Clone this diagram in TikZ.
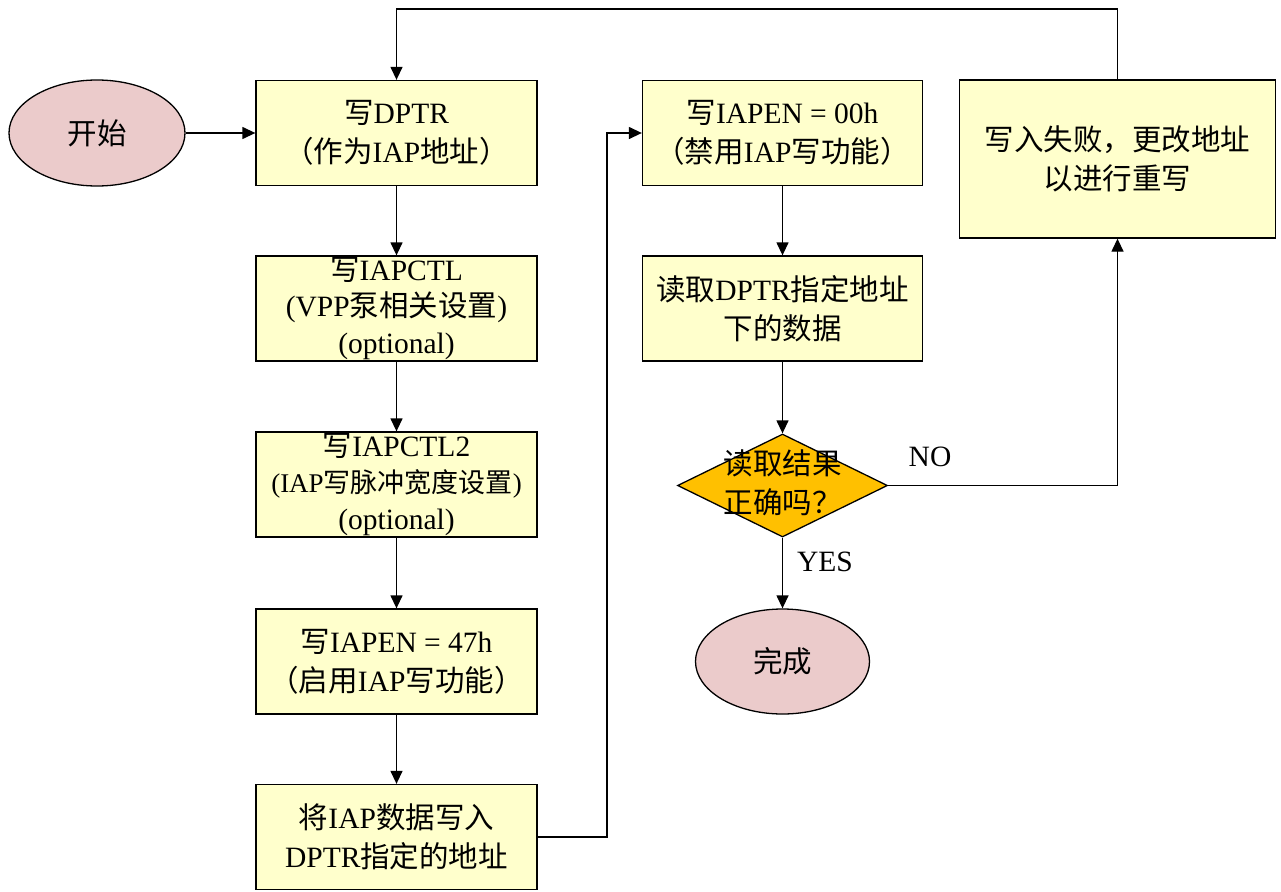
\documentclass[tikz,border=0pt]{standalone}
\usepackage{fontspec}
\setmainfont{Liberation Serif}
\newfontfamily\cjk{Noto Sans CJK SC}
\usetikzlibrary{shapes.geometric,arrows.meta}
\definecolor{boxfill}{HTML}{FFFFCC}
\definecolor{ellfill}{HTML}{EBCBCB}
\definecolor{diafill}{HTML}{FFC000}
\tikzset{
  procbox/.style={draw=black, line width=1.3pt, fill=boxfill, minimum width=281pt, minimum height=105pt, inner sep=0pt, align=center, font=\fontsize{29.5}{39}\selectfont},
  termell/.style={draw=black, line width=1.3pt, fill=ellfill, ellipse, inner sep=0pt, font=\fontsize{29.5}{39}\selectfont},
  decdia/.style={draw=black, line width=1.3pt, fill=diafill, diamond, inner sep=0pt, minimum width=210pt, minimum height=103pt},
  lbl/.style={align=center, inner sep=0pt, font=\fontsize{29.5}{39}\selectfont},
  conn/.style={draw=black, line width=1.3pt, -{Triangle[length=13pt,width=12pt]}},
  plainconn/.style={draw=black, line width=1.3pt}
}
\begin{document}
\begin{tikzpicture}[x=1pt,y=-1pt]
\useasboundingbox (0,0) rectangle (1281,891);
\node[termell, minimum width=176pt, minimum height=106pt] (start) at (97,133) {{\cjk 开始}};
\node[procbox] (b1) at (396.5,133) {{\cjk 写}DPTR\\{\cjk （作为}IAP{\cjk 地址）}};
\node[procbox, font=\fontsize{29.5}{36.5}\selectfont] (b2) at (396.5,308.5) {{\cjk 写}IAPCTL\\(VPP{\cjk 泵相关设置})\\(optional)};
\node[procbox, font=\fontsize{29.5}{36.5}\selectfont] (b3) at (396.5,484.5) {{\cjk 写}IAPCTL2\\{\fontsize{27}{36.5}\selectfont(IAP{\cjk 写脉冲宽度设置})}\\(optional)};
\node[procbox] (b4) at (396.5,661.5) {{\cjk 写}IAPEN = 47h\\{\cjk （启用}IAP{\cjk 写功能）}};
\node[procbox] (b5) at (396.5,837) {{\cjk 将}IAP{\cjk 数据写入}\\DPTR{\cjk 指定的地址}};
\node[procbox, minimum width=280pt] (b6) at (782.5,133) {{\cjk 写}IAPEN = 00h\\{\cjk （禁用}IAP{\cjk 写功能）}};
\node[procbox, minimum width=280pt] (b7) at (782.5,308.5) {{\cjk 读取}DPTR{\cjk 指定地址}\\{\cjk 下的数据}};
\node[decdia] (dec) at (782.5,485.5) {};
\node[lbl] (dectext) at (782.5,483) {{\cjk 读取结果}\\{\cjk 正确吗？}};
\node[termell, minimum width=174pt, minimum height=105pt] (done) at (782.5,661.5) {{\cjk 完成}};
\node[procbox, minimum width=316pt, minimum height=158pt] (b8) at (1117.5,159) {{\cjk 写入失败，更改地址}\\{\cjk 以进行重写}};
\node[lbl] (no) at (930,457) {NO};
\node[lbl] (yes) at (825,562) {YES};
\coordinate (c1) at (607,837);
\coordinate (c2) at (1117.5,9);
\draw[conn] (start.east) -- (b1.west);
\draw[conn] (b1.south) -- (b2.north);
\draw[conn] (b2.south) -- (b3.north);
\draw[conn] (b3.south) -- (b4.north);
\draw[conn] (b4.south) -- (b5.north);
\draw[conn] (b5.east) -- (c1) |- (b6.west);
\draw[conn] (b6.south) -- (b7.north);
\draw[conn] (b7.south) -- (dec.north);
\draw[conn] (dec.south) -- (done.north);
\draw[conn] (dec.east) -| (b8.south);
\draw[conn] (b8.north) -- (c2) -| (b1.north);
\end{tikzpicture}
\end{document}
